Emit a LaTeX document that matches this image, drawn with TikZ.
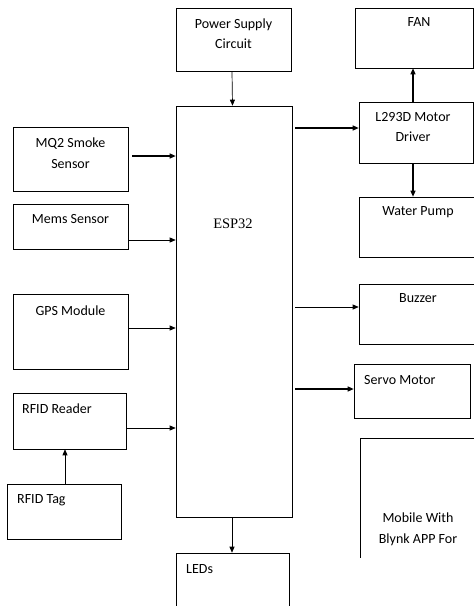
\documentclass[tikz,border=0pt]{standalone}
\usepackage{fontspec}
\setmainfont{Carlito}
\newfontfamily\tnr{Liberation Serif}
\usetikzlibrary{arrows.meta}
\begin{document}
\begin{tikzpicture}[x=1pt,y=-1pt,
  box/.style={draw, line width=0.6pt, inner sep=0pt, anchor=center},
  lbl/.style={inner sep=0pt, align=center, font=\fontsize{14}{20.5}\selectfont},
  lbll/.style={lbl, anchor=west},
  arr/.style={line width=0.7pt, -{Triangle[length=6pt,width=5pt]}},
  arrb/.style={line width=1.1pt, -{Triangle[length=6pt,width=5pt]}}]
\useasboundingbox (0,0) rectangle (474,606);
\clip (0,0) rectangle (474,606);
% left column and centre
\node[box, minimum width=115pt, minimum height=63pt] (ps) at (233.5,39.5) {};
\node[box, minimum width=116pt, minimum height=411pt] (esp) at (234,311.5) {};
\node[box, minimum width=115pt, minimum height=64pt] (mq2) at (70.5,159) {};
\node[box, minimum width=115pt, minimum height=45pt] (mems) at (70.5,226.5) {};
\node[box, minimum width=115pt, minimum height=75pt] (gps) at (70.5,331.5) {};
\node[box, minimum width=113pt, minimum height=56pt] (rfidr) at (69.5,421) {};
\node[box, minimum width=114pt, minimum height=55pt] (tag) at (64,511.5) {};
\node[box, minimum width=113pt, minimum height=80pt] (leds) at (232.5,593) {};
% right column
\node[box, minimum width=118pt, minimum height=60pt] (fan) at (414,38) {};
\node[box, minimum width=114pt, minimum height=61pt] (l293) at (416,132.5) {};
\node[box, minimum width=115pt, minimum height=60pt] (pump) at (416.5,227) {};
\node[box, minimum width=115pt, minimum height=60pt] (buzz) at (416.5,314) {};
\node[box, minimum width=116pt, minimum height=54pt] (servo) at (412,391) {};
\begin{scope}
\clip (300,0) rectangle (474,557);
\node[box, minimum width=120pt, minimum height=180pt] (mob) at (420,528) {};
\end{scope}
% labels
\node[lbl] (tps) at (233.5,33.5) {Power Supply\\Circuit};
\node[lbl, font=\tnr\fontsize{14.5}{17}\selectfont] (tesp) at (233,224) {ESP32};
\node[lbl] (tmq2) at (70.5,153) {MQ2 Smoke\\Sensor};
\node[lbl] (tmems) at (70.5,219) {Mems Sensor};
\node[lbl] (tgps) at (70.5,311) {GPS Module};
\node[lbll] (trfidr) at (22,409) {RFID Reader};
\node[lbll] (ttag) at (17,500) {RFID Tag};
\node[lbll] (tleds) at (186,569) {LEDs};
\node[lbl] (tfan) at (419,22) {FAN};
\node[lbl] (tl293) at (413,127) {L293D Motor\\Driver};
\node[lbl] (tpump) at (418,212) {Water Pump};
\node[lbl] (tbuzz) at (418,298) {Buzzer};
\node[lbll] (tservo) at (364,380) {Servo Motor};
\node[lbl] (tmob) at (418,529.5) {Mobile With\\Blynk APP For};
% connectors
\draw[arr] ([xshift=-1.5pt]ps.south) -- ([xshift=-1.5pt]esp.north);
\draw[arrb] ([xshift=4pt,yshift=3pt]mq2.east) -- ([yshift=3pt]mq2.east -| esp.west);
\draw[arr] ([yshift=-13.5pt]mems.east) -- ([yshift=-13.5pt]mems.east -| esp.west);
\draw[arr] ([yshift=3.5pt]gps.east) -- ([yshift=3.5pt]gps.east -| esp.west);
\draw[arr] ([yshift=-7pt]rfidr.east) -- ([yshift=-7pt]rfidr.east -| esp.west);
\draw[arr] ([xshift=1pt]tag.north) -- ([xshift=1pt]tag.north |- rfidr.south);
\draw[arr] ([xshift=-2pt]esp.south) -- ([xshift=-2pt]esp.south |- leds.north);
\draw[arrb] ([xshift=3pt,yshift=4.5pt]esp.east |- l293.west) -- ([yshift=4.5pt]l293.west);
\draw[arrb] ([xshift=-3pt]l293.north) -- ([xshift=-3pt]l293.north |- fan.south);
\draw[arrb] ([xshift=-3pt]l293.south) -- ([xshift=-3pt]l293.south |- pump.north);
\draw[arr] ([xshift=3pt,yshift=7pt]esp.east |- buzz.west) -- ([yshift=7pt]buzz.west);
\draw[arrb] ([xshift=3pt,yshift=2pt]esp.east |- servo.west) -- ([yshift=2pt]servo.west);
\end{tikzpicture}
\end{document}
